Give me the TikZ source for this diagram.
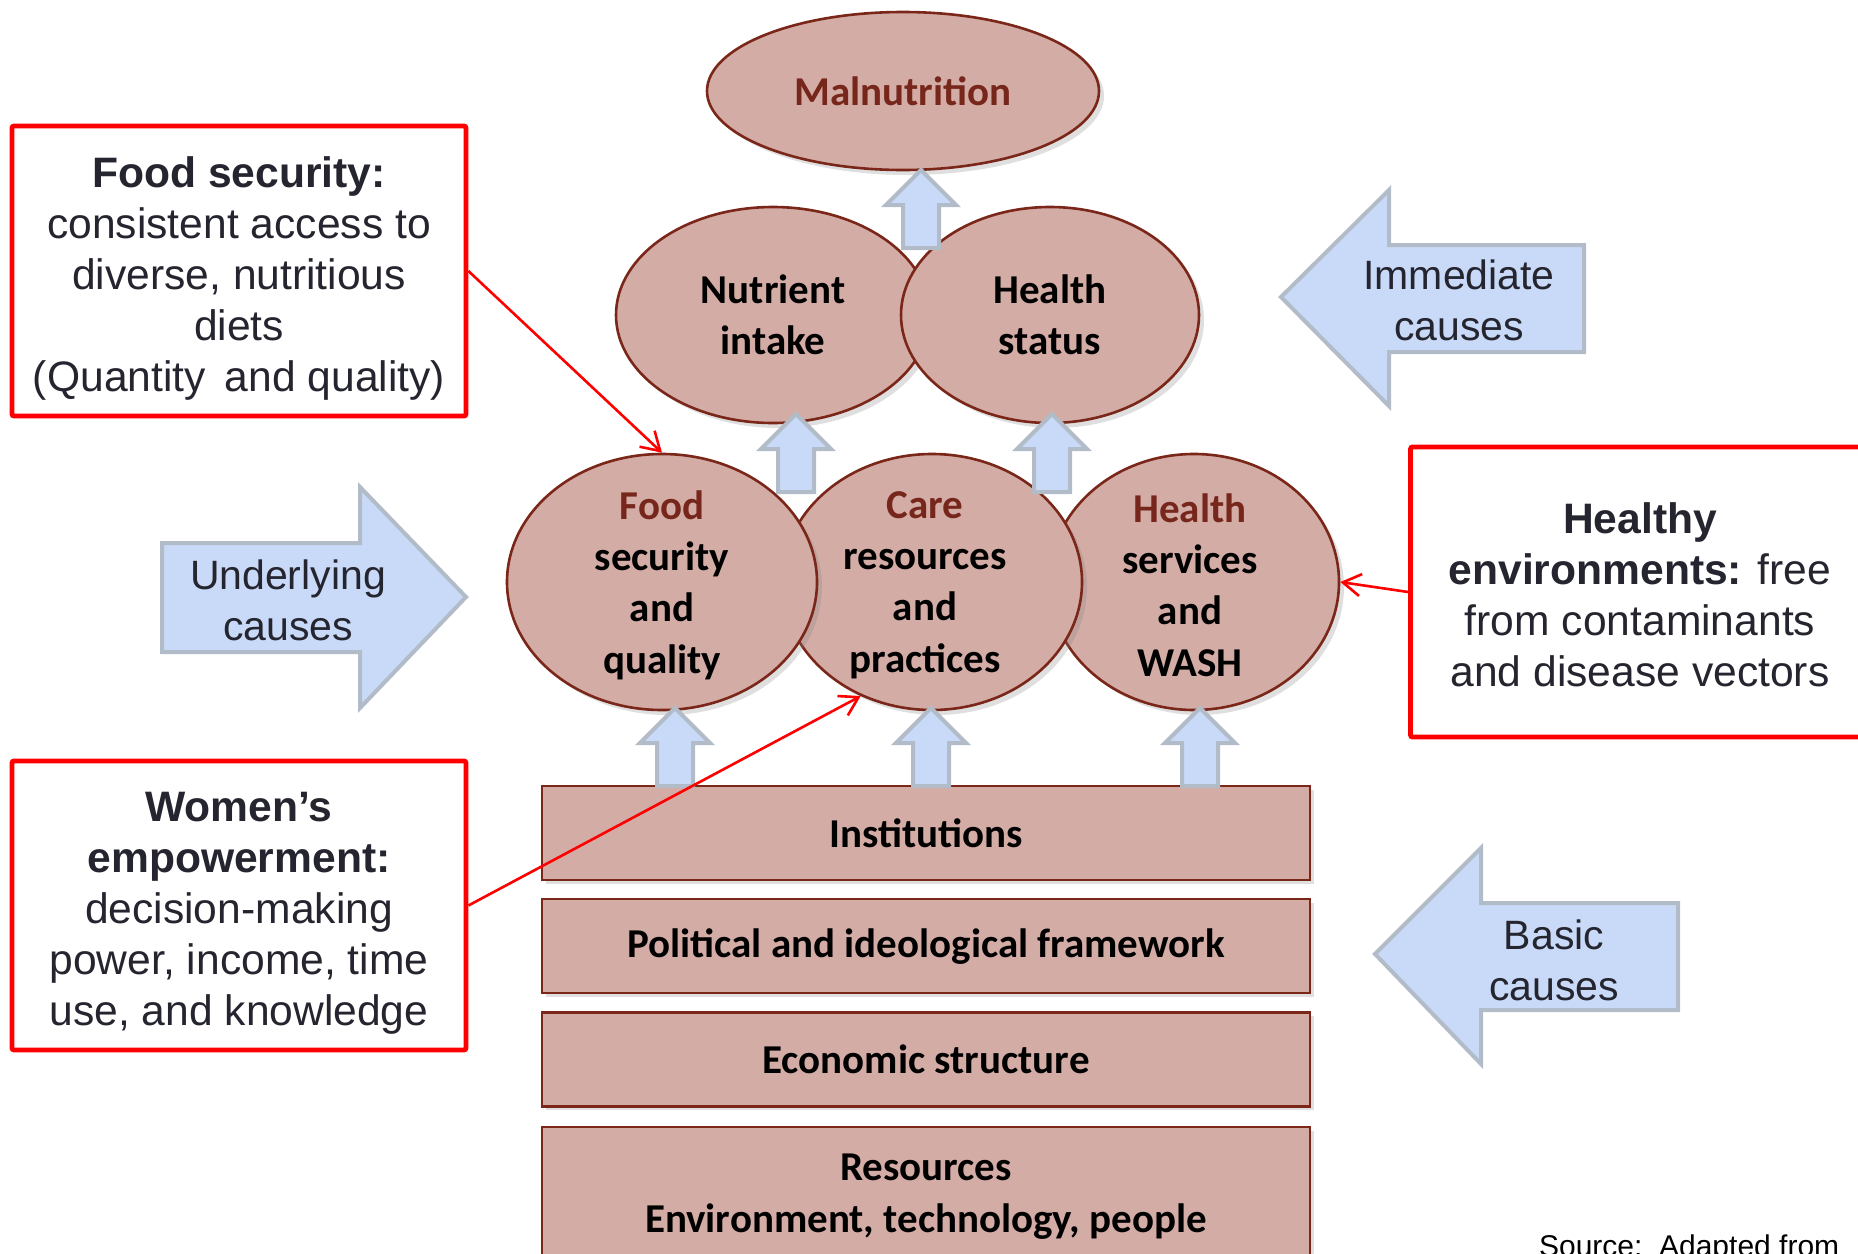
\documentclass[tikz,border=0pt]{standalone}
\usepackage{fontspec}
\setmainfont{Carlito}
\newfontfamily\arialfont{Liberation Sans}
\usetikzlibrary{shapes.geometric,positioning,arrows.meta,shadows}

\definecolor{rosefill}{HTML}{D4ACA6}
\definecolor{roseline}{HTML}{7A2619}
\definecolor{rosetext}{HTML}{76261A}
\definecolor{causefill}{HTML}{C9DAF8}
\definecolor{causeline}{HTML}{B2BCC8}
\definecolor{calltext}{HTML}{25252F}

\begin{document}
\begin{tikzpicture}[x=0.5pt,y=0.5pt,font=\fontsize{20.5}{25.7}\selectfont\bfseries]

  \tikzset{
    cause/.style={ellipse,draw=roseline,line width=1.3pt,fill=rosefill,align=center,inner sep=0pt,
      drop shadow={shadow xshift=2.5pt,shadow yshift=-2.5pt,opacity=0.25}},
    inside/.style={align=center,yshift=-1.5pt},
    level/.style={rectangle,draw=roseline,line width=1.1pt,fill=rosefill,align=center,
      minimum width=384pt,minimum height=47pt,
      drop shadow={shadow xshift=2pt,shadow yshift=-2pt,opacity=0.25}},
    callout/.style={rectangle,draw=red,line width=2.4pt,fill=white,rounded corners=1pt},
    callin/.style={align=center,text=calltext,font=\arialfont\mdseries\fontsize{21.3}{25.5}\selectfont},
    causetxt/.style={align=center,text=calltext,font=\arialfont\mdseries\fontsize{20.5}{25.5}\selectfont},
    link/.style={red,line width=1.3pt,-{Straight Barb[length=9pt,width=11pt]}},
    blockarrow/.style={fill=causefill,draw=causeline,line width=2pt,line join=miter},
    upar/.pic={\draw[blockarrow] (-18,0) -- (-18,43) -- (-35,43) -- (0,78) -- (35,43) -- (18,43) -- (18,0) -- cycle;},
  }

  \useasboundingbox (0,0) rectangle (1858,-1253);

  % outcome and immediate causes
  \node[cause,minimum width=196pt,minimum height=79pt] (mal) at (903,-91) {\textcolor{rosetext}{Malnutrition}};
  \node[cause,minimum width=157pt,minimum height=108pt] (nut) at (773,-315) {Nutrient\\intake};
  \node[cause,minimum width=149pt,minimum height=108pt] (hst) at (1050,-315) {Health\\status};

  % underlying causes (left one on top)
  \node[cause,minimum width=145pt,minimum height=128pt,
        label={[inside,xshift=-2pt]center:{\textcolor{rosetext}{Health}\\services\\and\\WASH}}] (hserv) at (1194,-582) {};
  \node[cause,minimum width=150pt,minimum height=128pt,
        label={[inside,xshift=-3.5pt]center:{\textcolor{rosetext}{Care}\\resources\\and\\practices}}] (care) at (932,-582) {};
  \node[cause,minimum width=155pt,minimum height=128pt,
        label={[inside]center:{\textcolor{rosetext}{Food}\\security\\and\\quality}}] (food) at (662,-582) {};

  % basic causes
  \node[level] (inst) at (926,-833) {Institutions};
  \node[level] (polit) [below=8.5pt of inst] {Political and ideological framework};
  \node[level] (econ) [below=8.5pt of polit] {Economic structure};
  \node[level,minimum height=70pt] (res) [below=9pt of econ] {Resources\\Environment, technology, people};

  % small up arrows
  \pic at (921,-248) {upar};
  \pic at (796,-492) {upar};
  \pic at (1052,-492) {upar};
  \pic at (675,-786) {upar};
  \pic at (931,-786) {upar};
  \pic at (1200,-786) {upar};

  % big cause arrows
  \draw[blockarrow] (1281,-297) -- (1389,-190) -- (1389,-245) -- (1584,-245) -- (1584,-352)
    -- (1389,-352) -- (1389,-406) -- cycle;
  \node[causetxt] (imm) at (1459,-300) {Immediate\\causes};

  \draw[blockarrow] (466,-597) -- (360,-487) -- (360,-543) -- (162,-543) -- (162,-652)
    -- (360,-652) -- (360,-708) -- cycle;
  \node[causetxt] (und) at (288,-600) {Underlying\\causes};

  \draw[blockarrow] (1375,-954) -- (1481,-848) -- (1481,-903) -- (1678,-903) -- (1678,-1010)
    -- (1481,-1010) -- (1481,-1064) -- cycle;
  \node[causetxt] (bas) at (1554,-960) {Basic\\causes};

  % callouts
  \node[callout,minimum width=227pt,minimum height=145pt,
        label={[callin,yshift=-3.5pt]center:{\textbf{Food security:}\\consistent access to\\diverse, nutritious\\diets\\(Quantity~\,and quality)}}]
    (fsbox) at (239,-271) {};
  \node[callout,minimum width=227pt,minimum height=144.5pt,
        label={[callin,yshift=-4pt]center:{\textbf{Women’s}\\\textbf{empowerment:}\\decision-making\\power, income, time\\use, and knowledge}}]
    (wbox) at (239,-905.5) {};
  \node[callout,minimum width=229.5pt,minimum height=145pt,
        label={[callin,yshift=-1.5pt]center:{\textbf{Healthy}\\\textbf{environments:} free\\from contaminants\\and disease vectors}}]
    (hebox) at (1640,-592) {};

  \draw[link] (fsbox.east) -- (food.north);
  \draw[link] (wbox.east) -- (care.238);
  \draw[link] (hebox.west) -- (hserv.east);

  \node[anchor=base west,text=black,font=\arialfont\mdseries\fontsize{15}{18}\selectfont] (src)
    at (1532,-1256) {Source:\ \ Adapted from};

\end{tikzpicture}
\end{document}
